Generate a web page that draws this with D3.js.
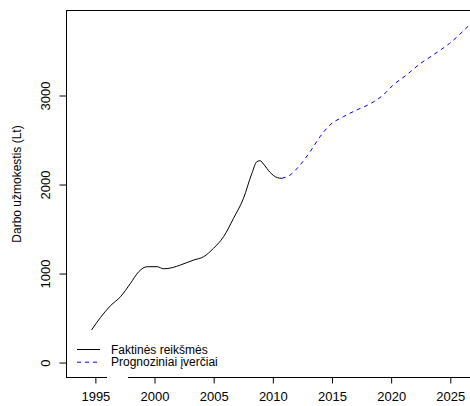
<!DOCTYPE html>
<html>
<head>
<meta charset="utf-8">
<script src="https://cdn.jsdelivr.net/npm/d3@7"></script>
<style>
  html, body { margin: 0; padding: 0; background: #fff; }
  svg { display: block; font-family: "Liberation Sans", Arial, sans-serif; }
</style>
</head>
<body>
<svg id="chart" width="470" height="406"></svg>
<script>
// Actual average wage (Lt) by year
const actualYears  = [1994.72, 1995.48, 1996.32, 1997.17, 1998.01, 1998.71, 1999.42, 2000.26, 2000.82, 2001.53, 2002.23, 2003.35, 2004.19, 2005.03, 2005.88, 2006.72, 2007.56, 2008.27, 2008.69, 2008.97, 2009.25, 2009.81, 2010.43, 2010.80];
const actualValues = [360, 502, 633, 734, 884, 1015, 1071, 1071, 1048, 1060, 1090, 1146, 1183, 1278, 1408, 1615, 1839, 2120, 2251, 2262, 2225, 2131, 2071, 2064];

// Forecast values (Lt) by year
const forecastYears  = [2010.80, 2011.50, 2012.34, 2013.19, 2014.03, 2014.87, 2016.00, 2017.12, 2018.24, 2019.37, 2020.21, 2021.34, 2022.46, 2023.58, 2024.99, 2026.67, 2027.50];
const forecastValues = [2064, 2101, 2213, 2363, 2531, 2663, 2756, 2831, 2899, 3000, 3112, 3225, 3348, 3449, 3581, 3787, 3890];

const xTicks = [1995, 2000, 2005, 2010, 2015, 2020, 2025];
const yTicks = [0, 1000, 2000, 3000];

const yLabel = "Darbo užmokestis (Lt)";
const legendLabels = ["Faktinės reikšmės", "Prognoziniai įverčiai"];
const seriesColors = ["#000000", "#0000ff"];

const svg = d3.select("#chart");
const plot = { left: 66, top: 10, right: 526, bottom: 377 };

const x = d3.scaleLinear().domain([1992.56, 2031.44]).range([plot.left, plot.right]);
const y = d3.scaleLinear().domain([-168, 3955]).range([plot.bottom, plot.top]);

svg.append("defs").append("clipPath").attr("id", "plotClip")
  .append("rect")
  .attr("x", plot.left).attr("y", plot.top)
  .attr("width", plot.right - plot.left).attr("height", plot.bottom - plot.top);

const line = d3.line()
  .x(d => x(d[0]))
  .y(d => y(d[1]))
  .curve(d3.curveMonotoneX);

const g = svg.append("g").attr("clip-path", "url(#plotClip)");

g.append("path")
  .datum(actualYears.map((yr, i) => [yr, actualValues[i]]))
  .attr("d", line)
  .attr("fill", "none")
  .attr("stroke", seriesColors[0])
  .attr("stroke-width", 1);

g.append("path")
  .datum(forecastYears.map((yr, i) => [yr, forecastValues[i]]))
  .attr("d", line)
  .attr("fill", "none")
  .attr("stroke", seriesColors[1])
  .attr("stroke-width", 1)
  .attr("stroke-dasharray", "4,4");

// Plot frame
svg.append("rect")
  .attr("x", plot.left + 0.5).attr("y", plot.top + 0.5)
  .attr("width", plot.right - plot.left).attr("height", plot.bottom - plot.top)
  .attr("fill", "none").attr("stroke", "#000").attr("stroke-width", 1);

// Axes
const xAxis = d3.axisBottom(x).tickValues(xTicks).tickFormat(d3.format("d")).tickSize(6).tickPadding(8);
const xg = svg.append("g").attr("transform", `translate(0.5,${plot.bottom + 0.5})`).call(xAxis);
xg.select(".domain").remove();
xg.selectAll("text").attr("font-size", 13).attr("fill", "#000")
  .attr("font-family", "Liberation Sans, Arial, sans-serif");

const yAxis = d3.axisLeft(y).tickValues(yTicks).tickFormat(d3.format("d")).tickSize(7).tickPadding(0);
const yg = svg.append("g").attr("transform", `translate(${plot.left + 0.5},0.5)`).call(yAxis);
yg.select(".domain").remove();
yg.selectAll("text")
  .attr("font-size", 13).attr("fill", "#000")
  .attr("font-family", "Liberation Sans, Arial, sans-serif")
  .attr("x", null).attr("dy", null)
  .attr("text-anchor", "middle")
  .attr("transform", "translate(-17,0) rotate(-90)");

// Y axis title
svg.append("text")
  .attr("transform", "translate(21,184) rotate(-90)")
  .attr("text-anchor", "middle")
  .attr("font-size", 12)
  .text(yLabel);

// Legend
const legend = svg.append("g").attr("transform", "translate(77,349)");
legend.append("rect")
  .attr("x", 30).attr("y", 25).attr("width", 21).attr("height", 6)
  .attr("fill", "#fff");
legendLabels.forEach((label, i) => {
  const row = legend.append("g").attr("transform", `translate(0,${i * 12.7})`);
  row.append("line")
    .attr("x1", 0).attr("x2", 23).attr("y1", 0.5).attr("y2", 0.5)
    .attr("stroke", seriesColors[i]).attr("stroke-width", 1)
    .attr("stroke-dasharray", i === 1 ? "4,4" : null);
  row.append("text")
    .attr("x", 34).attr("y", 4.5)
    .attr("font-size", 12)
    .text(label);
});
</script>
</body>
</html>
